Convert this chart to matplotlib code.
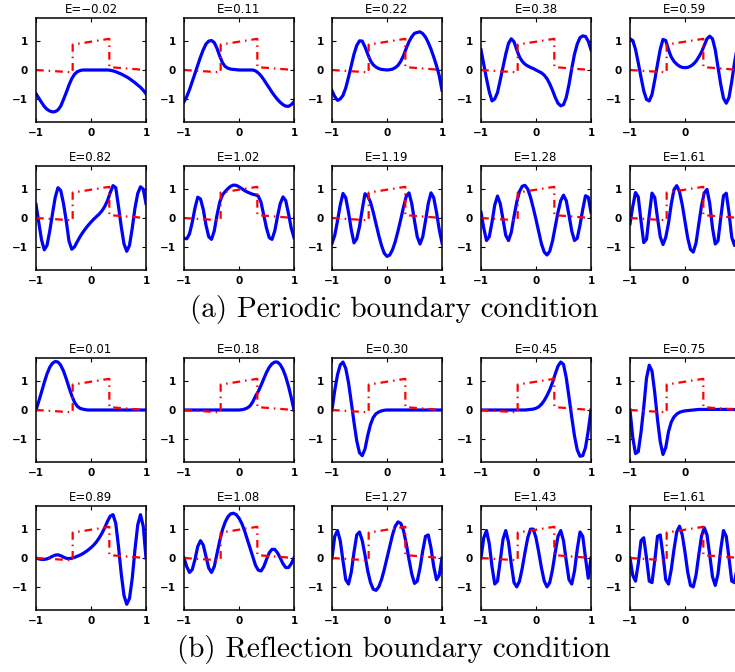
import numpy as np
import matplotlib.pyplot as plt

# sample grid shared by all wavefunctions
x = np.linspace(-1, 1, 41)

# step potential with a weak linear field
pot_x = [-1, -1/3, -1/3, 1/3, 1/3, 1]
pot_y = [0.0, -0.08, 0.88, 1.08, 0.10, 0.0]

# (a) periodic boundary condition
pbc_energy = [-0.02, 0.11, 0.22, 0.38, 0.59, 0.82, 1.02, 1.19, 1.28, 1.61]
pbc_1 = [-0.82, -0.97, -1.12, -1.26, -1.36, -1.42, -1.45, -1.44, -1.38, -1.25,
         -1.02, -0.78, -0.52, -0.30, -0.15, -0.06, -0.02, 0.0, 0.0, 0.0,
         0.0, 0.0, 0.0, 0.0, 0.0, 0.0, 0.0, -0.01, -0.03, -0.06,
         -0.10, -0.14, -0.19, -0.24, -0.30, -0.37, -0.44, -0.52, -0.60, -0.70,
         -0.82]
pbc_2 = [-1.10, -0.92, -0.68, -0.40, -0.12, 0.17, 0.45, 0.70, 0.90, 1.00,
         1.02, 0.95, 0.75, 0.48, 0.25, 0.12, 0.06, 0.03, 0.02, 0.01,
         0.0, 0.0, 0.0, 0.0, 0.0, 0.0, -0.03, -0.10, -0.20, -0.33,
         -0.48, -0.62, -0.77, -0.90, -1.02, -1.12, -1.20, -1.25, -1.26, -1.20,
         -1.10]
pbc_3 = [-0.72, -0.92, -1.05, -1.00, -0.88, -0.62, -0.25, 0.15, 0.55, 0.85,
         1.01, 1.00, 0.80, 0.55, 0.32, 0.18, 0.10, 0.05, 0.02, 0.01,
         0.0, 0.01, 0.03, 0.08, 0.16, 0.30, 0.50, 0.75, 0.98, 1.15,
         1.27, 1.30, 1.32, 1.26, 1.14, 0.95, 0.72, 0.45, 0.15, -0.20,
         -0.70]
pbc_4 = [0.70, 0.20, -0.30, -0.75, -1.07, -1.00, -0.78, -0.35, 0.10, 0.55,
         0.92, 1.08, 0.98, 0.70, 0.45, 0.30, 0.20, 0.14, 0.09, 0.05,
         0.0, -0.05, -0.10, -0.18, -0.30, -0.48, -0.70, -0.95, -1.15, -1.24,
         -1.20, -0.95, -0.50, 0.05, 0.55, 0.90, 1.12, 1.18, 1.16, 1.00,
         0.70]
pbc_5 = [1.08, 1.02, 0.72, 0.25, -0.25, -0.72, -1.02, -1.07, -0.85, -0.35,
         0.20, 0.72, 1.06, 1.02, 0.70, 0.45, 0.30, 0.20, 0.13, 0.09,
         0.08, 0.09, 0.13, 0.20, 0.30, 0.45, 0.62, 0.85, 1.08, 1.17,
         1.08, 0.70, 0.10, -0.50, -0.98, -1.15, -0.95, -0.40, 0.25, 0.80,
         1.08]
pbc_6 = [0.47, -0.15, -0.75, -1.10, -0.95, -0.45, 0.15, 0.72, 1.05, 0.95,
         0.50, -0.10, -0.80, -1.08, -1.00, -0.82, -0.65, -0.50, -0.37, -0.25,
         -0.14, -0.04, 0.05, 0.14, 0.25, 0.40, 0.60, 0.88, 1.12, 1.05,
         0.40, -0.30, -0.90, -1.15, -0.95, -0.35, 0.35, 0.85, 1.08, 1.00,
         0.50]
pbc_7 = [-0.70, -0.72, -0.55, -0.15, 0.35, 0.72, 0.66, 0.30, -0.25, -0.65,
         -0.74, -0.45, 0.10, 0.55, 0.80, 0.92, 1.02, 1.10, 1.14, 1.13,
         1.08, 1.02, 0.95, 0.90, 0.86, 0.82, 0.80, 0.76, 0.55, 0.10,
         -0.35, -0.68, -0.74, -0.45, 0.05, 0.50, 0.73, 0.60, 0.15, -0.35,
         -0.68]
pbc_8 = [-0.88, -0.60, -0.10, 0.45, 0.85, 0.70, 0.20, -0.40, -0.86, -0.72,
         -0.30, 0.30, 0.84, 0.76, 0.55, 0.20, -0.20, -0.60, -0.95, -1.22,
         -1.33, -1.28, -1.10, -0.82, -0.45, -0.05, 0.38, 0.75, 0.87, 0.50,
         -0.10, -0.65, -0.90, -0.65, -0.10, 0.50, 0.87, 0.70, 0.20, -0.40,
         -0.86]
pbc_9 = [0.20, -0.35, -0.78, -0.65, -0.15, 0.45, 0.76, 0.50, -0.05, -0.60,
         -0.78, -0.50, 0.05, 0.55, 0.92, 1.10, 1.13, 1.00, 0.72, 0.35,
         -0.05, -0.48, -0.90, -1.18, -1.28, -1.15, -0.80, -0.30, 0.20, 0.60,
         0.79, 0.60, 0.10, -0.45, -0.78, -0.70, -0.25, 0.30, 0.77, 0.72,
         0.20]
pbc_10 = [-0.20, 0.40, 0.88, 0.73, -0.10, -0.85, -0.74, 0.10, 0.86, 0.71,
          0.0, -0.65, -0.92, -0.67, -0.18, 0.48, 0.98, 1.12, 0.91, 0.46,
          -0.12, -0.70, -1.09, -1.18, -0.87, -0.22, 0.42, 0.87, 0.99, 0.50,
          -0.34, -0.90, -0.79, 0.0, 0.77, 0.86, 0.19, -0.67, -0.95, -0.65,
          -0.20]

# (b) reflection boundary condition
rbc_energy = [0.01, 0.18, 0.30, 0.45, 0.75, 0.89, 1.08, 1.27, 1.43, 1.61]
rbc_1 = [0.0, 0.30, 0.62, 0.95, 1.25, 1.48, 1.62, 1.68, 1.66, 1.55,
         1.35, 1.08, 0.78, 0.50, 0.27, 0.13, 0.06, 0.03, 0.01, 0.0,
         0.0, 0.0, 0.0, 0.0, 0.0, 0.0, 0.0, 0.0, 0.0, 0.0,
         0.0, 0.0, 0.0, 0.0, 0.0, 0.0, 0.0, 0.0, 0.0, 0.0,
         0.0]
rbc_2 = [0.0, 0.0, 0.0, 0.0, 0.0, 0.0, 0.0, 0.0, 0.0, 0.0,
         0.0, 0.0, 0.0, 0.0, 0.0, 0.0, 0.0, 0.0, 0.0, 0.0,
         0.0, 0.01, 0.03, 0.07, 0.14, 0.28, 0.48, 0.64, 0.85, 1.08,
         1.30, 1.48, 1.60, 1.66, 1.66, 1.57, 1.40, 1.15, 0.82, 0.43,
         0.0]
rbc_3 = [0.0, 0.68, 1.22, 1.56, 1.66, 1.44, 0.95, 0.28, -0.43, -1.07,
         -1.48, -1.58, -1.35, -0.88, -0.50, -0.26, -0.13, -0.07, -0.03, -0.01,
         0.0, 0.0, 0.0, 0.0, 0.0, 0.0, 0.0, 0.0, 0.0, 0.0,
         0.0, 0.0, 0.0, 0.0, 0.0, 0.0, 0.0, 0.0, 0.0, 0.0,
         0.0]
rbc_4 = [0.0, 0.0, 0.0, 0.0, 0.0, 0.0, 0.0, 0.0, 0.0, 0.0,
         0.0, 0.0, 0.0, 0.0, 0.0, 0.0, 0.0, 0.01, 0.02, 0.03,
         0.06, 0.11, 0.20, 0.33, 0.50, 0.70, 0.95, 1.25, 1.52, 1.66,
         1.58, 1.12, 0.45, -0.25, -0.90, -1.38, -1.60, -1.58, -1.30, -0.72,
         0.0]
rbc_5 = [0.0, -0.95, -1.51, -1.44, -0.78, 0.10, 1.10, 1.55, 1.35, 0.60,
         -0.33, -1.10, -1.54, -1.30, -0.75, -0.42, -0.24, -0.14, -0.08, -0.05,
         -0.03, -0.02, -0.01, 0.0, 0.01, 0.02, 0.02, 0.02, 0.02, 0.02,
         0.02, 0.02, 0.02, 0.02, 0.02, 0.02, 0.02, 0.02, 0.015, 0.01,
         0.0]
rbc_6 = [0.0, -0.03, -0.05, -0.05, -0.03, 0.01, 0.06, 0.10, 0.11, 0.08,
         0.03, -0.01, -0.02, -0.01, 0.02, 0.06, 0.10, 0.15, 0.21, 0.28,
         0.36, 0.45, 0.56, 0.70, 0.86, 1.05, 1.27, 1.45, 1.50, 1.20,
         0.40, -0.55, -1.30, -1.60, -1.40, -0.70, 0.30, 1.15, 1.50, 1.10,
         0.0]
rbc_7 = [0.0, -0.30, -0.50, -0.40, -0.05, 0.40, 0.60, 0.45, 0.05, -0.35,
         -0.50, -0.30, 0.15, 0.60, 0.98, 1.25, 1.43, 1.53, 1.55, 1.50,
         1.38, 1.20, 0.95, 0.65, 0.35, 0.05, -0.25, -0.42, -0.45, -0.30,
         -0.05, 0.18, 0.30, 0.30, 0.18, 0.00, -0.20, -0.33, -0.33, -0.20,
         0.0]
rbc_8 = [0.0, 0.75, 0.95, 0.60, -0.10, -0.75, -0.90, -0.50, 0.20, 0.80,
         0.90, 0.60, 0.10, -0.45, -0.85, -1.08, -1.12, -1.00, -0.75, -0.40,
         0.0, 0.40, 0.80, 1.10, 1.25, 1.20, 0.95, 0.50, -0.05, -0.55,
         -0.88, -0.80, -0.35, 0.25, 0.75, 0.80, 0.35, -0.30, -0.75, -0.60,
         0.0]
rbc_9 = [0.0, 0.70, 0.95, 0.50, -0.30, -0.90, -0.80, -0.10, 0.65, 0.95,
         0.55, -0.20, -0.85, -1.00, -0.80, -0.35, 0.20, 0.70, 1.00, 1.00,
         0.70, 0.20, -0.35, -0.80, -1.00, -0.85, -0.40, 0.20, 0.75, 0.95,
         0.60, -0.10, -0.75, -0.90, -0.45, 0.30, 0.90, 0.75, 0.00, -0.70,
         0.0]
rbc_10 = [0.0, -0.60, -0.80, -0.20, 0.60, 0.70, 0.00, -0.80, -0.85, -0.10,
          0.75, 0.80, 0.10, -0.75, -0.90, -0.40, 0.30, 0.90, 1.10, 0.80,
          0.20, -0.50, -0.95, -1.00, -0.60, 0.10, 0.75, 1.05, 0.80, 0.10,
          -0.65, -0.95, -0.55, 0.30, 0.95, 0.75, 0.00, -0.80, -0.85, -0.30,
          0.0]

pbc = [pbc_1, pbc_2, pbc_3, pbc_4, pbc_5, pbc_6, pbc_7, pbc_8, pbc_9, pbc_10]
rbc = [rbc_1, rbc_2, rbc_3, rbc_4, rbc_5, rbc_6, rbc_7, rbc_8, rbc_9, rbc_10]

W, H = 735, 672
fig = plt.figure(figsize=(W / 100, H / 100), dpi=100)

col_left = [36, 184, 332, 481, 630]
row_top = [18, 166, 358, 506]
aw, ah = 110, 104


def panel(left, top, psi, energy):
    ax = fig.add_axes([left / W, 1 - (top + ah) / H, aw / W, ah / H])
    ax.plot(x, psi, color='blue', lw=2.3, solid_joinstyle='round')
    ax.plot(pot_x, pot_y, color='red', lw=1.6,
            linestyle=(0, (3.5, 2.2, 0.7, 2.2)))
    ax.set_xlim(-1, 1)
    ax.set_ylim(-1.8, 1.8)
    ax.set_xticks([-1, 0, 1])
    ax.set_yticks([-1, 0, 1])
    ax.tick_params(direction='in', top=True, right=True, length=3,
                   width=0.8, labelsize=7.5)
    ax.tick_params(axis='x', pad=4)
    ax.tick_params(axis='y', pad=6)
    for lab in ax.get_xticklabels() + ax.get_yticklabels():
        lab.set_fontweight('bold')
    for s in ax.spines.values():
        s.set_linewidth(1.1)
    ax.set_title(f'E={energy:.2f}'.replace('-', '\u2212'), fontsize=8.5,
                 pad=3.5)


for i in range(10):
    r, c = divmod(i, 5)
    panel(col_left[c], row_top[r], pbc[i], pbc_energy[i])
    panel(col_left[c], row_top[r + 2], rbc[i], rbc_energy[i])

fig.text(394 / W, 1 - 309 / H, '(a) Periodic boundary condition',
         family='cmr10', fontsize=21, ha='center', va='center')
fig.text(394 / W, 1 - 649 / H, '(b) Reflection boundary condition',
         family='cmr10', fontsize=21, ha='center', va='center')

fig.savefig('out.png', dpi=100)
